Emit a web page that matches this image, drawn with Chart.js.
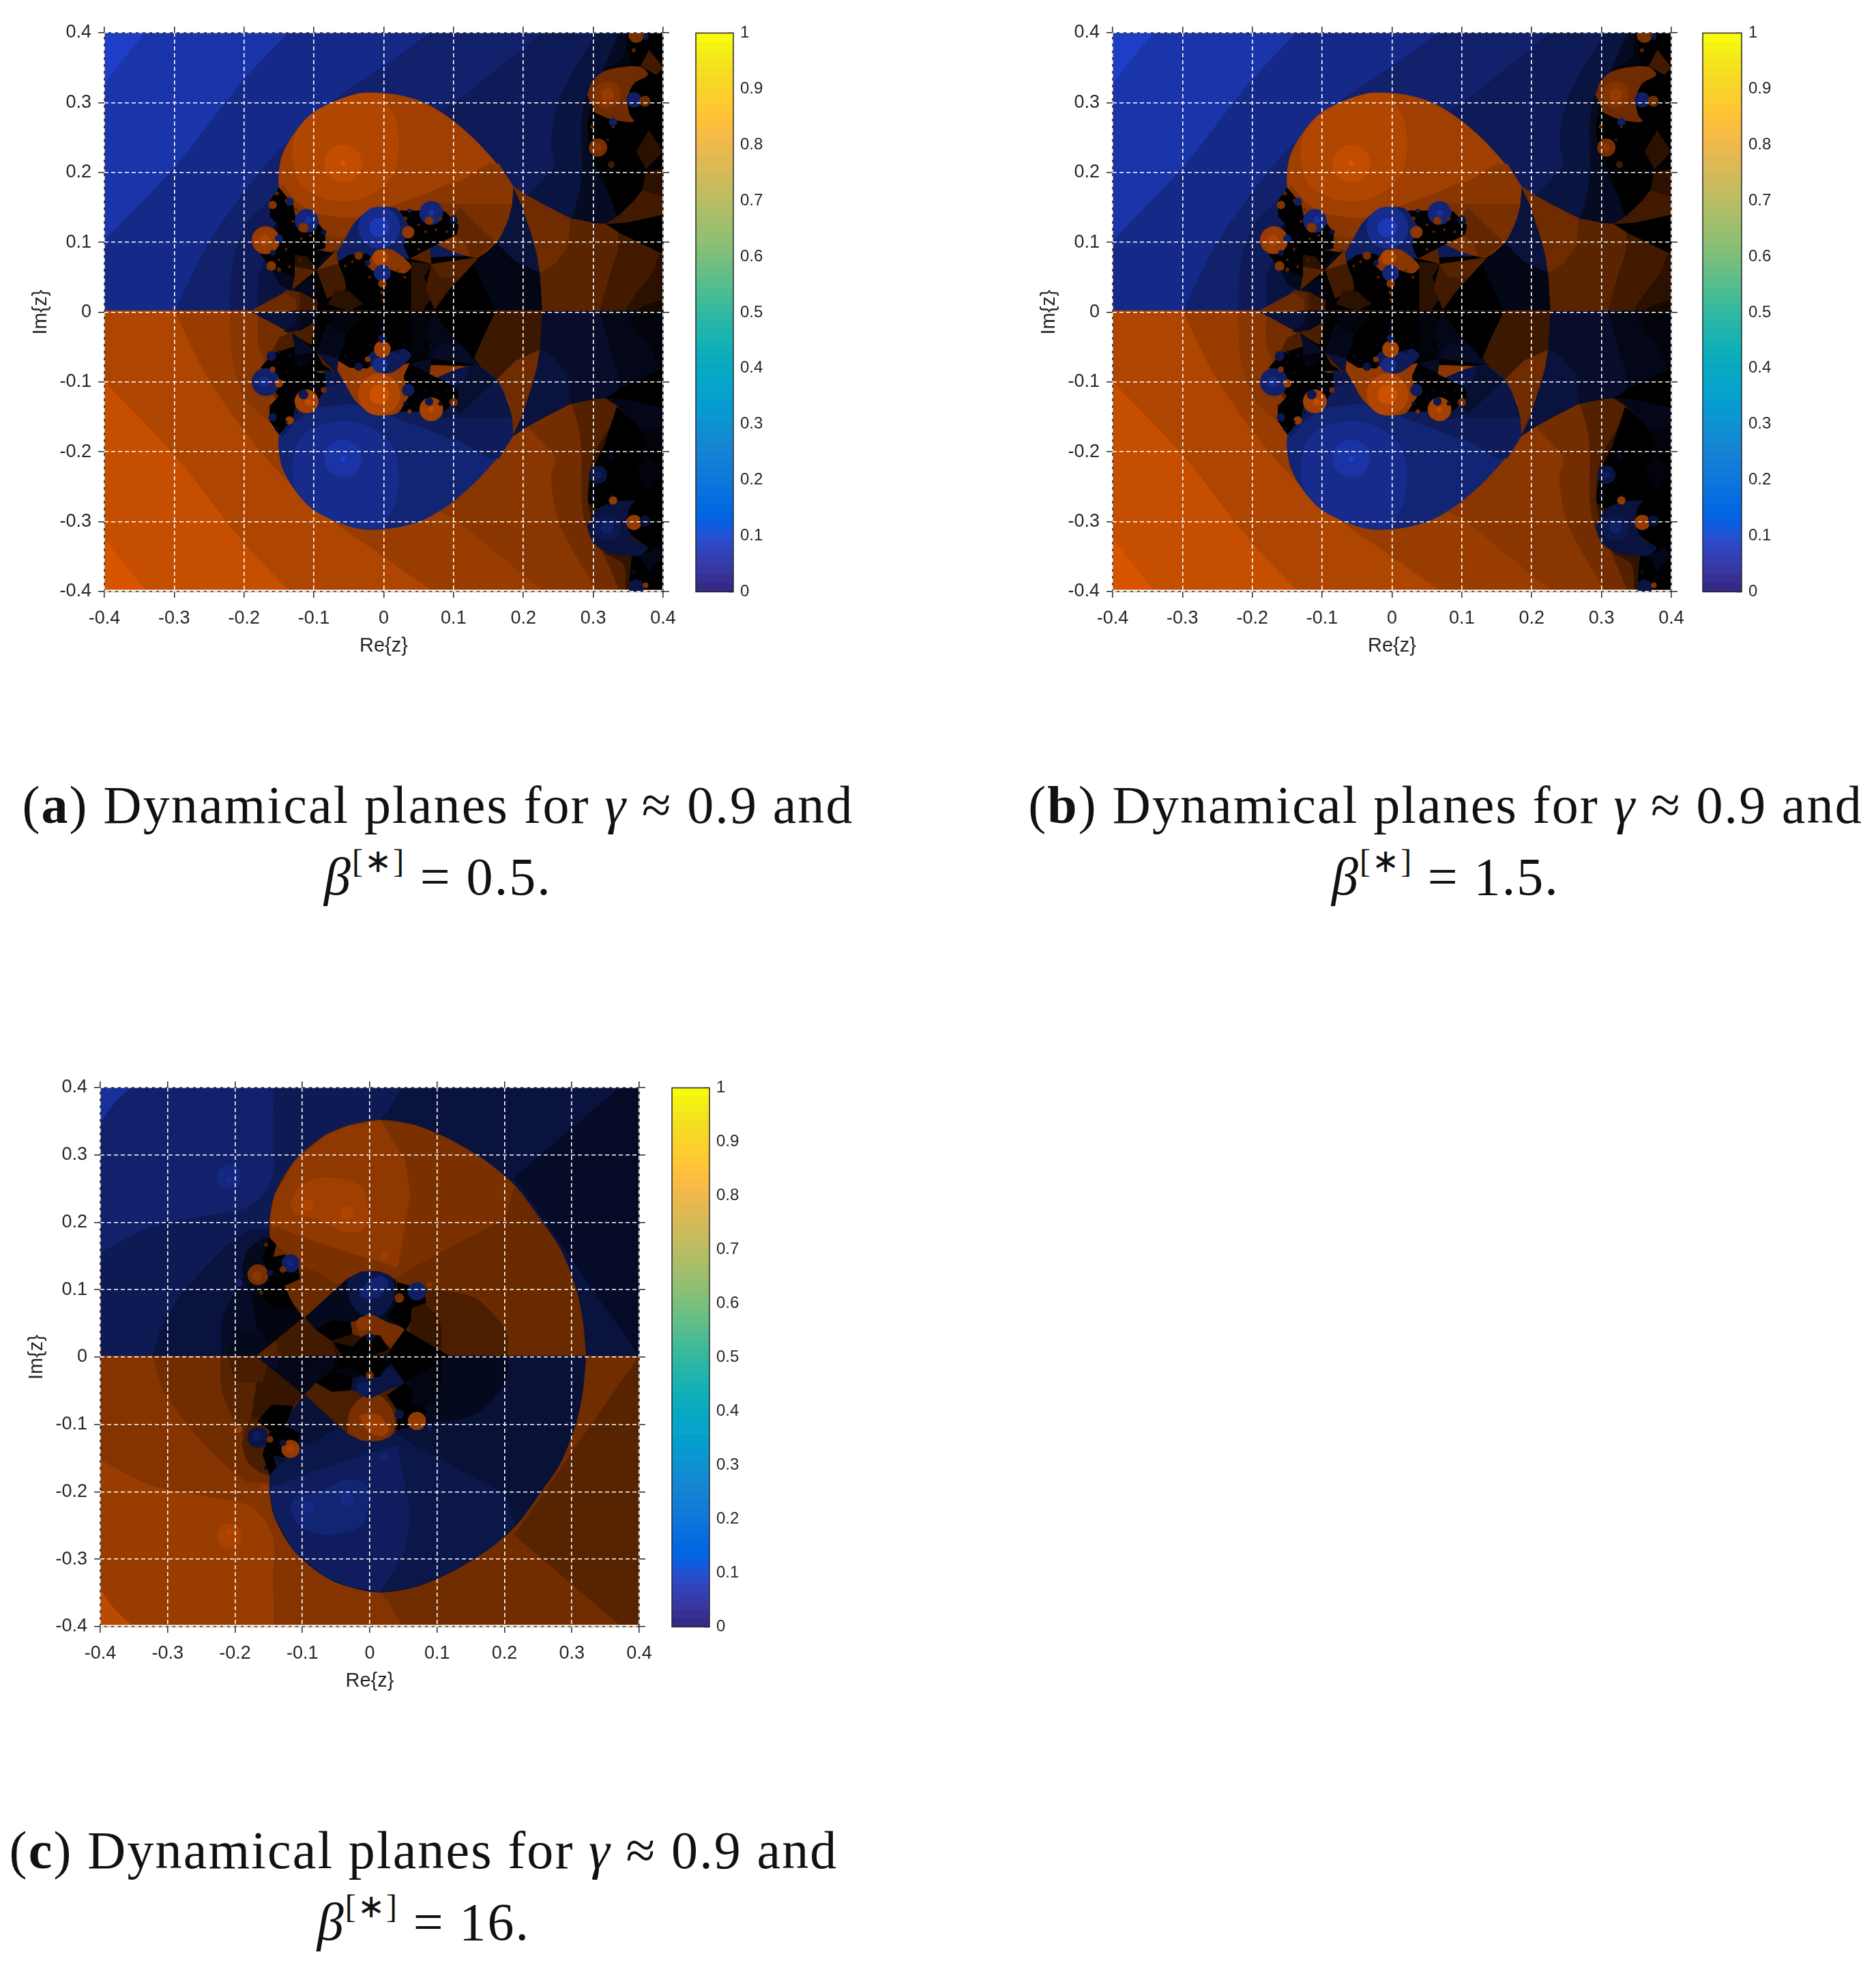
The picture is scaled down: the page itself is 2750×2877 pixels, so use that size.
<!DOCTYPE html>
<html lang="en">
<head>
<meta charset="utf-8" />
<title>Dynamical planes</title>
<script src="https://cdn.jsdelivr.net/npm/chart.js@4"></script>
<style>
  body { margin: 0; background: #fff; width: 2750px; height: 2877px; position: relative; overflow: hidden; }
  canvas { position: absolute; }
  .cap { position: absolute; width: 1400px; text-align: center; font-family: "Liberation Serif", serif; font-size: 78px; letter-spacing: 2.1px; line-height: 105px; color: #111; white-space: nowrap; }
  .cap i { font-style: italic; }
  .cap sup { font-size: 48px; line-height: 0; vertical-align: 0.68em; }
</style>
</head>
<body>
<div class="cap" style="left:-58px;top:1127px">(<b>a</b>) Dynamical planes for <i>γ</i> ≈ 0.9 and<br><i>β</i><sup>[∗]</sup> = 0.5.</div>
<div class="cap" style="left:1419px;top:1127px">(<b>b</b>) Dynamical planes for <i>γ</i> ≈ 0.9 and<br><i>β</i><sup>[∗]</sup> = 1.5.</div>
<div class="cap" style="left:-79px;top:2659px">(<b>c</b>) Dynamical planes for <i>γ</i> ≈ 0.9 and<br><i>β</i><sup>[∗]</sup> = 16.</div>
<script>
// axis ticks
const tickValues = [-0.4, -0.3, -0.2, -0.1, 0, 0.1, 0.2, 0.3, 0.4];
const barTicks = [0, 0.1, 0.2, 0.3, 0.4, 0.5, 0.6, 0.7, 0.8, 0.9, 1];

// colour bar levels and colours (64 bands)
const barEdges = [0, .0156, .0313, .0469, .0625, .0781, .0938, .1094, .125, .1406, .1563, .1719, .1875, .2031, .2188, .2344,
  .25, .2656, .2813, .2969, .3125, .3281, .3438, .3594, .375, .3906, .4063, .4219, .4375, .4531, .4688, .4844,
  .5, .5156, .5313, .5469, .5625, .5781, .5938, .6094, .625, .6406, .6563, .6719, .6875, .7031, .7188, .7344,
  .75, .7656, .7813, .7969, .8125, .8281, .8438, .8594, .875, .8906, .9063, .9219, .9375, .9531, .9688, .9844, 1];
const barColours = [[.2081,.1663,.5292],[.2116,.1898,.5777],[.2123,.2138,.627],[.2081,.2386,.6771],[.1959,.2645,.7279],[.1707,.2919,.7792],[.1253,.3242,.8303],[.0591,.3598,.8683],
  [.0117,.3875,.882],[.006,.4086,.8828],[.0165,.4266,.8786],[.0329,.443,.872],[.0498,.4586,.8641],[.0629,.4737,.8554],[.0723,.4887,.8467],[.0779,.504,.8384],
  [.0793,.52,.8312],[.0749,.5375,.8263],[.0641,.557,.824],[.0488,.5772,.8228],[.0343,.5966,.8199],[.0265,.6137,.8135],[.0239,.6287,.8038],[.0231,.6418,.7913],
  [.0228,.6535,.7768],[.0267,.6642,.7607],[.0384,.6743,.7436],[.059,.6838,.7254],[.0843,.6928,.7062],[.1133,.7015,.6859],[.1453,.7098,.6646],[.1801,.7177,.6424],
  [.2178,.725,.6193],[.2586,.7317,.5954],[.3022,.7376,.5712],[.3482,.7424,.5473],[.3953,.7459,.5244],[.442,.7481,.5033],[.4871,.7491,.484],[.53,.7491,.4661],
  [.5709,.7485,.4494],[.6099,.7473,.4337],[.6473,.7456,.4188],[.6834,.7435,.4044],[.7184,.7411,.3905],[.7525,.7384,.3768],[.7858,.7356,.3633],[.8185,.7327,.3498],
  [.8507,.7299,.336],[.8824,.7274,.3217],[.9139,.7258,.3063],[.945,.7261,.2886],[.9739,.7314,.2666],[.9938,.7455,.2403],[.999,.7653,.2164],[.9955,.7861,.1967],
  [.988,.8066,.1794],[.9789,.8271,.1633],[.9697,.8481,.1475],[.9626,.8705,.1309],[.9589,.8949,.1132],[.9598,.9218,.0948],[.9661,.9514,.0755],[.9763,.9831,.0538]];

// regions of the upper half plane: [basin, shade 0-10, [x,y, x,y, ...], smooth]
// a repeated point keeps a sharp corner in a smooth outline
const abLobe = [.185,.18, .185,.18, .167,.206, .131,.246, .095,.277, .059,.299, .024,.31, -.005,.3135, -.034,.313, -.069,.302, -.105,.282, -.13,.253, -.145,.225, -.15,.197, -.148,.172,
  -.13,.135, -.094,.095, -.0845,.088, -.068,.0885, -.0667,.085, .037,.08, .075,.098, .1,.0868, .124,.08, .137,.08, .161,.1, .171,.117, .179,.138, .183,.154, .185,.18, .185,.18];
const abShapes = [
  ['b', 10, [-.4,.4, .4,.4, .4,0, -.4,0]],
  ['b', 8.5, [-.341,.4, -.341,.4, -.37,.365, -.4,.327, -.4,.327, -.4,0, -.4,0, .4,0, .4,0, .4,.4, .4,.4], 1],
  ['b', 6.8, [-.137,.4, -.137,.4, -.205,.327, -.298,.209, -.4,.102, -.4,.102, -.4,0, -.4,0, .4,0, .4,0, .4,.4, .4,.4], 1],
  ['b', 5.4, [.0665,.4, .0665,.4, -.005,.349, -.077,.299, -.148,.234, -.205,.165, -.255,.091, -.299,0, -.299,0, .4,0, .4,0, .4,.4, .4,.4], 1],
  ['b', 4.4, [.2275,.4, .2275,.4, .167,.352, .095,.296, -.1,.2, -.191,.134, -.216,.072, -.22,0, -.22,0, .4,0, .4,0, .4,.4, .4,.4], 1],
  ['b', 3.3, [-.179,0, -.179,0, -.179,.05, -.165,.085, -.145,.13, -.13,.16, -.1,.14, -.1,0, -.1,0], 1],
  ['b', 2, [-.135,.0315, -.16,.06, -.17,.09, -.15,.13, -.12,.12, -.12,.03], 1],
  ['b', 3.2, [.3046,.4, .3046,.4, .2705,.343, .25,.3, .24,.24, .246,.212, .228,.189, .2055,.1665, .2055,.1665, .4,0, .4,0, .4,.4, .4,.4], 1],
  ['b', 1.8, [.337,.4, .337,.4, .3128,.3446, .29,.309, .2835,.27, .284,.212, .28,.17, .269,.134, .269,.134, .4,.1, .4,.1, .4,.4, .4,.4], 1],
  ['b', .7, [.347,.4, .347,.4, .3437,.364, .316,.345, .293,.276, .3,.212, .326,.163, .334,.139, .334,.139, .4,.1, .4,.1, .4,.4, .4,.4], 1],
  ['b', 0, [.293,.276, .295,.25, .303,.221, .316,.195, .334,.139, .359,.16, .37,.174, .376,.2, .4,.205, .4,.4, .352,.4, .3535,.374, .356,.35, .378,.34]],
  ['o', 2, [.4,.23, .376,.205, .362,.23, .38,.26]],
  ['o', 3, [.368,.352, .38,.375, .4,.35, .39,.34]],
  ['b', 3, [.184,.18, .199,.15, .212,.111, .22,.082, .224,.056, .189,.072, .161,.1, .18,.13]],
  ['b', 1, [.161,.1, .1355,.078, .129,.069, .14,.043, .16,0, .2275,0, .224,.056, .189,.072]],
  ['b', 0, [-.128,.09, -.0667,.085, .037,.077, .124,.08, .137,.08, .129,.069, .14,.043, .16,0, -.135,0, -.135,.0315]],
  ['o', 4.2, [.185,.18, .2055,.1665, .228,.154, .267,.134, .303,.127, .318,.126, .336,.1145, .4,.0835, .4,0, .2275,0, .224,.056, .22,.082, .212,.111, .199,.15]],
  ['o', 5.2, [.185,.18, .2055,.1665, .228,.154, .267,.134, .2655,.1145, .2625,.092, .2445,.069, .224,.056, .22,.082, .212,.111, .199,.15]],
  ['o', 3, [.336,.1145, .336,.0885, .326,.059, .3095,0, .4,0, .4,.0835]],
  ['o', 2, [.394,.082, .385,.056, .362,.027, .3455,0, .4,0, .4,.0835]],
  ['o', 1, [.362,0, .375,.01, .4,.017, .4,0]],
  ['b', 0, [.318,.126, .345,.128, .4,.14, .4,.0835, .336,.1145]],
  ['o', 3, [.318,.126, .336,.1375, .359,.16, .37,.174, .4,.166, .4,.14, .345,.128]],
  ['o', 2, [.37,.174, .376,.2, .4,.205, .4,.166]],
  // lobe and its shading
  ['o', 7.4, abLobe, 1],
  ['o', 6.4, [-.146,.183, -.127,.16, -.101,.1405, -.055,.134, -.029,.1355, .003,.1486, .062,.17, .0927,.183, .108,.186, .15,.212, .165,.212, .185,.18, .183,.154, .179,.138, .171,.117, .161,.1, .137,.08, .124,.08, .1,.0868, .075,.098, .037,.08, -.0667,.085, -.0845,.088, -.094,.095, -.13,.135, -.148,.172]],
  ['o', 5.6, [-.13,.135, -.114,.131, -.088,.111, -.062,.105, 0,.12, .0752,.156, .1,.154, .183,.154, .179,.138, .171,.117, .161,.1, .137,.08, .124,.08, .1,.0868, .075,.098, .037,.08, -.0667,.085, -.0845,.088, -.094,.095]],
  ['o', 4.6, [.108,.15, .16,.1, .137,.08, .124,.08, .1176,.098, .09,.12]],
  ['o', 8.2, [-.005,.3135, .016,.277, .0215,.24, .013,.1965, -.019,.1685, -.055,.159, -.091,.165, -.1195,.184, -.13,.218, -.127,.2525, -.105,.282, -.069,.302, -.034,.313], 1],
  // centre wedges
  ['o', 5, [-.188,.003, -.135,.0315, -.117,.0283, -.096,.017, -.096,0]],
  ['o', 4, [-.143,.03, -.135,.0315, -.117,.0283, -.096,.017, -.096,0, -.125,0, -.125,.017]],
  ['o', 3, [-.12,.03, -.096,.017, -.096,0, -.12,0]],
  ['b', 1.5, [-.135,.0315, -.104,.0494, -.098,.018, -.117,.0283]],
  ['o', 4, [-.132,.0315, -.128,.056, -.1275,.0657, -.096,.06]],
  ['o', 2, [-.127,.0836, -.1275,.0657, -.096,.06, -.11,.08]],
  ['b', 1.5, [-.16,.06, -.128,.0527, -.132,.0315, -.15,.04]],
  ['o', 5, [-.096,.06, -.068,.0885, -.065,.069, -.0845,.0592]],
  ['o', 3, [-.096,.06, -.065,.069, -.057,.049, -.054,.033, -.0815,.02]],
  ['b', 1.5, [-.088,.077, -.07,.0885, -.095,.0625]],
  ['o', 2, [-.07,.03, -.05,.03, -.03,.012, -.05,.002, -.08,.012]],
  ['o', 4, [.037,.077, .065,.0933, .068,.069]],
  ['o', 2, [.039,.072, .068,.0683, .057,.049, .0715,.025, .055,0, .039,0]],
  ['o', 3, [.068,.0683, .1355,.078, .09,.028, .073,.004, .06,.035]],
  ['o', 4, [.068,.0683, .1355,.078, .11,.05, .08,.05]],
  // dome under the lobe
  ['b', 5, [-.0667,.085, -.055,.105, -.042,.1275, -.023,.144, 0,.15, .0195,.147, .036,.124, .029,.095, .037,.077, .02,.08, -.02,.07, -.065,.072], 1],
  ['b', 0, [-.065,.072, -.049,.082, -.023,.083, -.018,.0787, -.023,.0573, -.055,.0573]],
  ['o', 6.4, [-.0228,.0657, -.018,.0787, 0,.09, .016,.087, .039,.0657, .029,.056, .003,.0625, -.016,.059], 1],
  // black fractal clusters
  ['b', 0, [-.15,.178, -.13,.1535, -.127,.137, -.1105,.147, -.094,.1275, -.0846,.1145, -.0846,.0917, -.1,.0885, -.11,.08, -.128,.083, -.128,.0527, -.159,.0624, -.1756,.082, -.15,.124, -.1626,.137, -.1626,.16]],
  ['b', 0, [.023,.145, .052,.145, .088,.1437, .107,.124, .104,.111, .0846,.1015, .068,.0933, .037,.077, .029,.095, .036,.124]],
  ['o', 5.2, [.2916,.3105, .2998,.3316, .316,.3446, .342,.3505, .368,.3505, .378,.3397, .3583,.328, .3486,.3056, .3518,.283, .358,.273, .326,.2763, .303,.286], 1],
];
// discs: [basin, shade, x, y, radius in z units]
const abSpots = [
  ['o', 9, -.058, .2125, .027], ['o', 10, -.058, .213, .004],
  ['b', 7, -.0065, .121, .03], ['b', 9, -.0065, .121, .014],
  ['o', 8, -.005, .0787, .011],
  ['b', 6, -.002, .056, .012], ['o', 6, -.002, .041, .006], ['o', 4, -.002, .028, .003], ['o', 3, -.002, .018, .002],
  ['o', 7, -.169, .103, .02], ['o', 8, -.171, .103, .008],
  ['b', 6, -.1105, .1307, .017], ['b', 8, -.108, .132, .005],
  ['o', 6, -.115, .121, .007], ['b', 5, -.135, .158, .006], ['o', 6, -.159, .1535, .006], ['o', 4, -.153, .17, .003],
  ['b', 3, -.086, .1145, .004], ['b', 5, -.15, .105, .006], ['o', 6, -.161, .066, .007], ['b', 4, -.159, .085, .004], ['o', 4, -.15, .061, .003],
  ['b', 6, .068, .142, .017], ['b', 8, .068, .142, .004], ['o', 6.5, .035, .1145, .009], ['o', 6, .065, .131, .006],
  ['b', 3, .1, .132, .006], ['o', 4, .081, .134, .003], ['o', 4, .031, .134, .003], ['b', 4, .037, .145, .003],
  ['o', 5.5, -.036, .081, .006], ['b', 4, -.023, .0706, .004],
  ['o', 6, .3203, .3111, .019], ['o', 7, .3203, .3111, .009],
  ['b', 5, .3583, .304, .011], ['o', 5, .374, .302, .008], ['o', 5.5, .3615, .3966, .011], ['b', 4, .375, .394, .004], ['o', 4, .358, .375, .003],
  ['o', 5.5, .307, .2357, .013], ['o', 6.5, .307, .2357, .005], ['b', 5, .3284, .2724, .006],
  ['o', 4, .2988, .2656, .003], ['o', 4, .3284, .265, .002], ['o', 3, .3258, .2113, .005], ['o', 3, .3209, .247, .002],
  ['o', 4, -.14, .16, .002], ['o', 4, -.125, .147, .002], ['o', 4, -.13, .13, .002], ['o', 4, -.118, .105, .002], ['o', 4, -.105, .11, .002], ['o', 4, -.098, .1, .002],
  ['o', 4, -.14, .09, .002], ['o', 4, -.15, .075, .002], ['o', 4, -.135, .065, .002], ['o', 4, -.12, .075, .002],
  ['o', 4, .05, .125, .002], ['o', 4, .06, .115, .002], ['o', 4, .045, .1, .002], ['o', 4, .075, .118, .002], ['o', 4, .09, .115, .002], ['o', 4, .05, .09, .002], ['o', 4, .1, .11, .002],
  ['o', 4, -.055, .066, .002], ['o', 4, -.045, .072, .002], ['o', 4, .02, .06, .002], ['o', 4, .03, .05, .002], ['o', 4, -.02, .05, .002],
];

const cShapes = [
  ['b', 7.7, [-.4,.4, .4,.4, .4,0, -.4,0]],
  ['b', 5.4, [-.354,.4, -.354,.4, -.38,.375, -.4,.347, -.4,.347, -.4,0, -.4,0, .4,0, .4,0, .4,.4, .4,.4], 1],
  ['b', 4.2, [-.142,.4, -.142,.4, -.143,.33, -.144,.267, -.178,.2235, -.252,.208, -.326,.1926, -.4,.155, -.4,.155, -.4,0, -.4,0, .4,0, .4,0, .4,.4, .4,.4], 1],
  ['b', 3.1, [.049,.4, .049,.4, .015,.35, -.148,.1925, -.185,.186, -.252,.1245, -.3036,.056, -.322,0, -.322,0, .4,0, .4,0, .4,.4, .4,.4], 1],
  ['b', 2, [.371,.4, .215,.267, .4,0, .4,.4]],
  ['b', 2, [-.2206,0, -.2206,0, -.2184,.056, -.185,.1245, -.16,.16, -.1,.14, -.1,0, -.1,0], 1],
  ['b', 1.4, [-.19,.13, -.18,.16, -.15,.178, -.12,.17, -.1,.13, -.11,.09, -.147,.088, -.18,.1], 1],
  ['o', 4.9, [-.148,.186, -.148,.186, -.148,.205, -.1405,.242, -.111,.2916, -.0664,.3288, -.0293,.344, .015,.3517, .067,.344, .119,.3226, .171,.2916, .2154,.2545, .2525,.205, .282,.1616, .3044,.106, .3155,.0563, .3207,0, .3207,0, -.098,0, -.098,0, -.098,.0585, -.098,.0585, -.12,.09, -.14,.12, -.148,.186, -.148,.186], 1],
  ['o', 5.7, [.015,.3517, .067,.344, .119,.3226, .171,.2916, .2154,.2545, .2,.205, .126,.167, .058,.13, .038,.116, -.05,.11, -.0765,.1264, -.1,.135, -.148,.175, -.148,.205, -.1405,.242, -.111,.2916, -.0664,.3288, -.0293,.344]],
  ['o', 6.6, [.015,.3517, .052,.2916, .06,.242, .0486,.174, .041,.1337, -.029,.155, -.0886,.174, -.148,.1988, -.148,.205, -.1405,.242, -.111,.2916, -.0664,.3288, -.0293,.344]],
  ['o', 7.4, [-.118,.2292, -.103,.254, -.066,.2663, -.014,.254, -.003,.223, -.007,.192, -.037,.1858, -.074,.2035, -.111,.2107], 1],
  ['o', 3.5, [.05,.1, .1,.0997, .156,.087, .195,.05, .204,.0316, .204,0, .204,0, .05,0, .05,0], 1],
  ['o', 2.5, [.06,.09, .085,.076, .105,.049, .105,0, .105,0, .06,0, .06,0], 1],
  ['b', .8, [-.176,.0969, -.1675,.042, -.152,.015, -.098,.0585, -.113,.0741]],
  ['b', 1.4, [-.1675,.002, -.152,.015, -.16,.04, -.2,.04, -.21,0]],
  ['o', 3, [-.1675,.002, -.098,.0585, -.085,0]],
  ['o', 4, [-.1675,.002, -.14,.024, -.135,0]],
  ['o', 3, [-.0965,.0566, -.0799,.0404, -.056,.0236, -.05,0, -.085,0]],
  ['b', 1.5, [-.0965,.0583, -.033,.1163, -.0125,.1264, .0145,.1264, .038,.1146, .0415,.0826, .0263,.0593, .0516,.0405, .0027,.0623, -.0226,.054, -.0799,.0404]],
  ['b', 3.5, [-.033,.1163, -.03,.086, -.02,.07, -.006,.061, .014,.06, .034,.083, .034,.116, .0145,.1264, -.0125,.1264], 1],
  ['b', 5.5, [-.016,.09, -.002,.113, .018,.12, .028,.11, .014,.09, -.002,.086], 1],
  ['o', 5.5, [-.018,.049, -.0075,.061, .001,.0634, .025,.052, .0516,.0405, .025,.0185, -.009,.0287, -.019,.0388], 1],
  ['b', 0, [-.0799,.0404, -.056,.054, -.029,.052, -.026,.0337, -.056,.0236]],
  ['b', 0, [.0516,.0405, .117,.002, .0246,.0017, .031,.0118]],
  ['o', 2, [-.056,.0236, -.026,.0337, -.009,.0287, .025,.0185, .031,.0118, .0246,0, -.05,0]],
  ['b', 0, [-.054,.0216, -.025,.0152, -.008,.032, .015,.032, .028,.0118, -.002,0, -.04,0]],
  ['b', 0, [.04,.111, .058,.106, .0785,.1028, .0836,.081, .0617,.0728, .0604,.0526, .0533,.0405, .0263,.0593, .0415,.0826]],
  ['b', 0, [-.149,.177, -.139,.167, -.144,.148, -.127,.1517, -.107,.14, -.104,.116, -.127,.106, -.1136,.0758, -.1456,.0741, -.166,.0977, -.147,.113, -.159,.148]],
];
const cSpots = [
  ['b', 6.5, -.2087, .268, .018], ['b', 7.5, -.2087, .264, .003],
  ['o', 8, -.092, .225, .009], ['o', 8, -.034, .214, .01], ['o', 7.4, .022, .1507, .006],
  ['o', 6.4, .0886, .108, .0035], ['o', 6.4, -.0977, .143, .002], ['b', 5, -.194, .11, .0055], ['o', 7, -.142, .195, .003], ['b', 5, -.156, .196, .004],
  ['o', 6.4, -.01, .05, .01],
  ['b', 5, .07, .0977, .0135], ['o', 5.5, .044, .0876, .007],
  ['b', 5, -.1176, .1392, .0135], ['b', 6, -.1176, .1392, .005], ['o', 5.5, -.166, .1223, .0155], ['o', 6.4, -.168, .12, .007],
  ['o', 5, -.129, .13, .005], ['o', 4, -.154, .167, .003], ['o', 4, -.161, .096, .003], ['b', 3, -.148, .125, .005],
  ['b', 3, 0, .03, .006], ['o', 4, 0, .017, .002],
];

// brightest colours of the two basins
const blueTop = [31, 62, 200];
const orangeTop = [216, 85, 0];
// a blue shade and its mirrored orange shade are not equally bright
const basinPower = 1.8;

function shade(basin, level, lower) {
  const f = level / 10;
  const top = (basin === 'b') !== lower ? blueTop : orangeTop;
  let k = f;
  if (lower) k = basin === 'b' ? Math.pow(f, 1 / basinPower) : Math.pow(f, basinPower);
  return 'rgb(' + top.map(v => Math.round(v * k)).join(',') + ')';
}

// the lower half is the upper half mirrored about the colour seam, with basins swapped
const seam = 0.0015;

function shapeDataset(basin, level, flat, smooth, lower) {
  const data = [];
  for (let i = 0; i < flat.length; i += 2) {
    const y = Math.max(flat[i + 1], seam);
    data.push({ x: flat[i], y: lower ? 2 * seam - y : y });
  }
  const colour = shade(basin, level, lower);
  return { data, showLine: true, fill: 'shape', tension: smooth ? 0.3 : 0, pointRadius: 0,
    backgroundColor: colour, borderColor: colour, borderWidth: 1 };
}

function spotDataset(basin, level, x, y, r, lower) {
  return { data: [{ x, y: lower ? 2 * seam - y : y, r }], showLine: false, borderWidth: 0,
    backgroundColor: shade(basin, level, lower),
    pointRadius: c => c.raw.r * c.chart.scales.x.width / 0.8 };
}

function buildDatasets(shapes, spots) {
  const out = [];
  [false, true].forEach(lower => {
    shapes.forEach(s => out.push(shapeDataset(s[0], s[1], s[2], s[3], lower)));
    spots.forEach(s => out.push(spotDataset(s[0], s[1], s[2], s[3], s[4], lower)));
  });
  // chart.js paints low order last, so later regions sit on top
  out.forEach((d, i) => { d.order = out.length - i; });
  return out;
}

const inkColour = '#262626';

const frame = {
  id: 'frame',
  afterDatasetsDraw(chart) {
    const a = chart.chartArea, ctx = chart.ctx;
    ctx.save();
    ctx.strokeStyle = inkColour;
    ctx.lineWidth = 1.5;
    ctx.strokeRect(a.left, a.top, a.right - a.left, a.bottom - a.top);
    ctx.restore();
  },
};

function axis(position, labelled, title) {
  const horizontal = position === 'top' || position === 'bottom';
  return {
    type: 'linear', position, min: -0.4, max: 0.4,
    afterBuildTicks: s => { s.ticks = tickValues.map(value => ({ value })); },
    afterFit: s => {
      if (horizontal) s.height = position === 'top' ? 30 : 110;
      else s.width = position === 'left' ? 130 : 40;
    },
    grid: { display: true, drawOnChartArea: labelled, color: '#ffffff', lineWidth: 1.6,
      tickColor: inkColour, tickWidth: 1.5, tickLength: 9, tickBorderDash: [], z: 2 },
    border: { display: false, dash: [6, 4] },
    ticks: { display: labelled, autoSkip: false, maxRotation: 0, color: inkColour, padding: horizontal ? 14 : 10,
      font: { family: '"Liberation Sans"', size: 27 }, callback: v => String(v) },
    title: title ? { display: true, text: title, color: inkColour, font: { family: '"Liberation Sans"', size: 29 }, padding: { top: horizontal ? 13 : 20, bottom: horizontal ? 13 : 20 } } : { display: false },
  };
}

function drawPlane(left, top, size, shapes, spots) {
  const canvas = document.createElement('canvas');
  canvas.width = size + 170;
  canvas.height = size + 140;
  canvas.style.left = (left - 130) + 'px';
  canvas.style.top = (top - 30) + 'px';
  document.body.appendChild(canvas);
  new Chart(canvas, {
    type: 'scatter',
    data: { datasets: buildDatasets(shapes, spots) },
    options: {
      responsive: false, animation: false, events: [],
      layout: { padding: 0 },
      plugins: { legend: { display: false }, tooltip: { enabled: false } },
      scales: {
        x: axis('bottom', true, 'Re{z}'),
        y: axis('left', true, 'Im{z}'),
        x2: axis('top', false),
        y2: axis('right', false),
      },
    },
    plugins: [frame],
  });
}

function drawColourBar(left, top, width, height) {
  const canvas = document.createElement('canvas');
  canvas.width = width + 90;
  canvas.height = height + 60;
  document.body.appendChild(canvas);
  const chart = new Chart(canvas, {
    type: 'bar',
    data: {
      labels: ['level'],
      datasets: barColours.map((c, i) => ({
        data: [[barEdges[i], barEdges[i + 1]]],
        backgroundColor: 'rgb(' + c.map(v => Math.round(v * 255)).join(',') + ')',
        barPercentage: 1, categoryPercentage: 1, grouped: false, borderWidth: 0,
      })),
    },
    options: {
      responsive: false, maintainAspectRatio: false, animation: false, events: [],
      layout: { padding: { left: 10 } },
      plugins: { legend: { display: false }, tooltip: { enabled: false } },
      scales: {
        x: { display: false },
        y: {
          position: 'right', min: 0, max: 1,
          afterBuildTicks: s => { s.ticks = barTicks.map(value => ({ value })); },
          afterFit: s => { s.width = 80; },
          grid: { drawOnChartArea: false, tickColor: inkColour, tickWidth: 1.5, tickLength: -8 },
          border: { display: false },
          ticks: { autoSkip: false, color: inkColour, padding: 18, font: { family: '"Liberation Sans"', size: 24 }, callback: v => String(v) },
        },
      },
    },
    plugins: [frame],
  });
  // the tick labels take margin above and below the bar, so size the canvas from the result
  const area = chart.chartArea;
  chart.resize(canvas.width, canvas.height + height - (area.bottom - area.top));
  canvas.style.left = (left - chart.chartArea.left) + 'px';
  canvas.style.top = (top - chart.chartArea.top) + 'px';
}

drawPlane(153, 48, 819, abShapes, abSpots);
drawColourBar(1020, 48, 55, 819);
drawPlane(1631, 48, 819, abShapes, abSpots);
drawColourBar(2496, 48, 57, 819);
drawPlane(147, 1594, 790, cShapes, cSpots);
drawColourBar(985, 1594, 55, 790);
</script>
</body>
</html>
